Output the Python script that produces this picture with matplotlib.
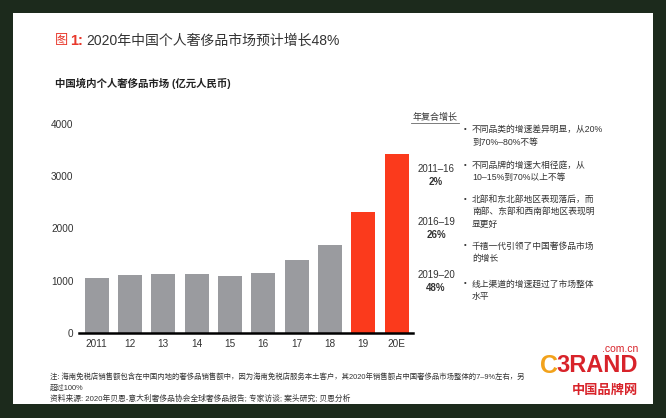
import numpy as np
import matplotlib.pyplot as plt
from matplotlib.patches import Rectangle
from matplotlib.lines import Line2D

# latin glyphs in an Arial-like face, CJK from Noto
plt.rcParams['font.family'] = ['Liberation Sans', 'Noto Sans CJK SC']

# data
years = ['2011', '12', '13', '14', '15', '16', '17', '18', '19', '20E']
market = [1050, 1110, 1130, 1120, 1100, 1150, 1400, 1680, 2320, 3430]
highlight = [False] * 8 + [True, True]
yticks = [0, 1000, 2000, 3000, 4000]

cagr_periods = ['2011–16', '2016–19', '2019–20']
cagr_values = ['2%', '26%', '48%']

bullets = [
    ['不同品类的增速差异明显，从20%', '到70%–80%不等'],
    ['不同品牌的增速大相径庭，从', '10–15%到70%以上不等'],
    ['北部和东北部地区表现落后，而', '南部、东部和西南部地区表现明', '显更好'],
    ['千禧一代引领了中国奢侈品市场', '的增长'],
    ['线上渠道的增速超过了市场整体', '水平'],
]

W, H = 666, 418
gray = '#9a9b9f'
red = '#fb3a1c'
txt = '#333333'


def px(x, y):
    return x / W, 1 - y / H


fig = plt.figure(figsize=(W / 100, H / 100), dpi=100, facecolor='#1c2a1c')
# white card behind everything
x0, y0 = px(13, 404)
fig.patches.append(Rectangle((x0, y0), (653 - 13) / W, (404 - 13) / H,
                             transform=fig.transFigure, facecolor='white',
                             edgecolor='none', zorder=-5))

# title
fig.text(*px(55, 41), '图', color='#e8382b', fontsize=9.5, va='center')
fig.text(*px(70, 41), '1:', color='#e8382b', fontsize=10.5, fontweight='bold', va='center')
fig.text(*px(86, 41), '2020年中国个人奢侈品市场预计增长48%', color=txt, fontsize=10, va='center')
fig.text(*px(55, 83), '中国境内个人奢侈品市场 (亿元人民币)', color='#222222',
         fontsize=7.5, fontweight='bold', va='center')

# bar chart
ax = fig.add_axes([79 / W, 1 - 333 / H, (413 - 79) / W, (333 - 124) / H])
ax.set_facecolor('none')
x = np.arange(len(years))
colors = [red if h else gray for h in highlight]
ax.bar(x, market, width=0.72, color=colors, zorder=2)
ax.set_xlim(-0.53, len(years) - 0.51)
ax.set_ylim(0, 4000)
ax.set_yticks(yticks)
ax.set_yticklabels([str(v) for v in yticks], fontsize=7.2, color=txt)
ax.set_xticks(x)
ax.set_xticklabels(years, fontsize=7.2, color=txt)
ax.tick_params(length=0, pad=4)
for s in ['top', 'right', 'left']:
    ax.spines[s].set_visible(False)
ax.spines['bottom'].set_linewidth(1.8)
ax.spines['bottom'].set_color('black')
ax.spines['bottom'].set_zorder(3)

# CAGR column
fig.text(*px(435, 117), '年复合增长', color=txt, fontsize=6.5, ha='center', va='center')
fig.lines.append(Line2D([411 / W, 459 / W], [1 - 123 / H, 1 - 123 / H],
                        transform=fig.transFigure, color='#666666', lw=0.6))
cagr_y = [169, 222, 275]
for period, val, yy in zip(cagr_periods, cagr_values, cagr_y):
    fig.text(*px(436, yy), period, color=txt, fontsize=7, ha='center', va='center')
    fig.text(*px(436, yy + 13), val, color=txt, fontsize=7, fontweight='bold',
             ha='center', va='center')

# bullet notes
bullet_y = [129.5, 165, 199, 246, 284]
for lines, yy in zip(bullets, bullet_y):
    fig.text(*px(464, yy), '•', color=txt, fontsize=5.5, va='center')
    for i, line in enumerate(lines):
        fig.text(*px(472, yy + i * 12.5), line, color=txt, fontsize=6.3, va='center')

# footnotes
fig.text(*px(50, 377), '注: 海南免税店销售额包含在中国内地的奢侈品销售额中，因为海南免税店服务本土客户，'
         '其2020年销售额占中国奢侈品市场整体的7–9%左右，另',
         color=txt, fontsize=5.3, va='center')
fig.text(*px(50, 388), '超过100%', color=txt, fontsize=5.3, va='center')
fig.text(*px(50, 399), '资料来源: 2020年贝恩-意大利奢侈品协会全球奢侈品报告; 专家访谈; 案头研究; 贝恩分析',
         color=txt, fontsize=5.6, va='center')

# watermark logo
fig.text(*px(638, 349), '.com.cn', color='#d8232a', fontsize=7.5, ha='right', va='center')
fig.text(*px(540, 366), 'C', color='#f2a21b', fontsize=18, fontweight='bold', va='center')
fig.text(*px(638, 366), '3RAND', color='#d8232a', fontsize=17, fontweight='bold',
         ha='right', va='center')
fig.text(*px(638, 391), '中国品牌网', color='#d8232a', fontsize=9.5, fontweight='bold',
         ha='right', va='center')

fig.savefig('out.png', dpi=100, facecolor=fig.get_facecolor())
